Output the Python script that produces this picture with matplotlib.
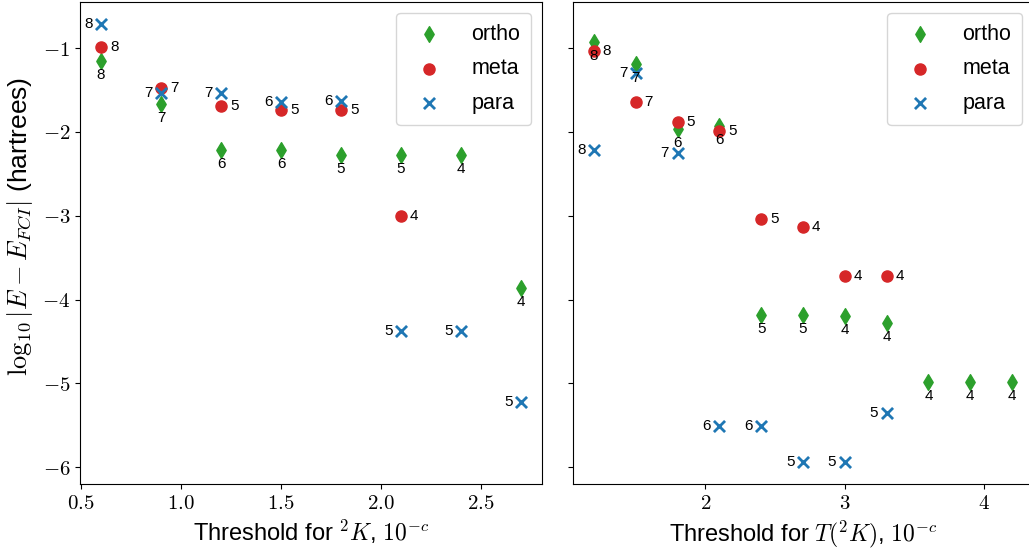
import matplotlib
matplotlib.use("Agg")
import matplotlib.pyplot as plt
from matplotlib import ticker

plt.rcParams['font.family'] = ['Liberation Sans', 'DejaVu Sans']
plt.rcParams['mathtext.fontset'] = 'cm'

# ---- Left panel: threshold for 2K ----
L_ortho_x = [0.6, 0.9, 1.2, 1.5, 1.8, 2.1, 2.4, 2.7]
L_ortho_y = [-1.15, -1.67, -2.22, -2.22, -2.28, -2.28, -2.28, -3.86]
L_ortho_lab = ['8', '7', '6', '6', '5', '5', '4', '4']

L_meta_x = [0.6, 0.9, 1.2, 1.5, 1.8, 2.1]
L_meta_y = [-0.99, -1.48, -1.69, -1.74, -1.74, -3.00]
L_meta_lab = ['8', '7', '5', '5', '5', '4']

L_para_x = [0.6, 0.9, 1.2, 1.5, 1.8, 2.1, 2.4, 2.7]
L_para_y = [-0.71, -1.54, -1.54, -1.64, -1.63, -4.37, -4.37, -5.22]
L_para_lab = ['8', '7', '7', '6', '6', '5', '5', '5']

# ---- Right panel: threshold for T(2K) ----
R_ortho_x = [1.2, 1.5, 1.8, 2.1, 2.4, 2.7, 3.0, 3.3, 3.6, 3.9, 4.2]
R_ortho_y = [-0.93, -1.19, -1.96, -1.93, -4.19, -4.19, -4.20, -4.28, -4.98, -4.98, -4.98]
R_ortho_lab = ['8', '7', '6', '6', '5', '5', '4', '4', '4', '4', '4']

R_meta_x = [1.2, 1.5, 1.8, 2.1, 2.4, 2.7, 3.0, 3.3]
R_meta_y = [-1.03, -1.64, -1.88, -1.99, -3.04, -3.13, -3.72, -3.72]
R_meta_lab = ['8', '7', '5', '5', '5', '4', '4', '4']

R_para_x = [1.2, 1.5, 1.8, 2.1, 2.4, 2.7, 3.0, 3.3]
R_para_y = [-2.21, -1.29, -2.25, -5.51, -5.51, -5.94, -5.94, -5.36]
R_para_lab = ['8', '7', '7', '6', '6', '5', '5', '5']

C_ORTHO = '#2ca02c'
C_META = '#d62728'
C_PARA = '#1f77b4'

fig = plt.figure(figsize=(10.29, 5.54), dpi=100)
ax1 = fig.add_axes([80/1029, 70/554, 462/1029, 482/554])
ax2 = fig.add_axes([573/1029, 70/554, 460/1029, 482/554], sharey=ax1)

ANN = 11


def draw(ax, ox, oy, ol, mx, my, ml, px, py, pl):
    ax.scatter(ox, oy, marker='d', s=64, color=C_ORTHO, label='ortho', zorder=3)
    ax.scatter(mx, my, marker='o', s=64, color=C_META, label='meta', zorder=3)
    ax.scatter(px, py, marker='x', s=64, color=C_PARA, linewidths=2, label='para', zorder=3)
    for x, y, t in zip(ox, oy, ol):
        ax.annotate(t, (x, y), xytext=(0, -10), textcoords='offset points',
                    ha='center', va='center', fontsize=ANN)
    for x, y, t in zip(mx, my, ml):
        ax.annotate(t, (x, y), xytext=(9.5, 0), textcoords='offset points',
                    ha='center', va='center', fontsize=ANN)
    for x, y, t in zip(px, py, pl):
        ax.annotate(t, (x, y), xytext=(-9.2, 0), textcoords='offset points',
                    ha='center', va='center', fontsize=ANN)
    leg = ax.legend(loc='upper right', fontsize=15.5, scatterpoints=1,
                    handletextpad=1.0, borderpad=0.5, labelspacing=0.64)
    leg.get_frame().set_edgecolor('#cccccc')


draw(ax1, L_ortho_x, L_ortho_y, L_ortho_lab, L_meta_x, L_meta_y, L_meta_lab,
     L_para_x, L_para_y, L_para_lab)
draw(ax2, R_ortho_x, R_ortho_y, R_ortho_lab, R_meta_x, R_meta_y, R_meta_lab,
     R_para_x, R_para_y, R_para_lab)

ax1.set_xticks([0.5, 1.0, 1.5, 2.0, 2.5])
ax1.xaxis.set_major_formatter(ticker.FuncFormatter(lambda v, p: f'${v:.1f}$'))
ax1.set_yticks([-1, -2, -3, -4, -5, -6])
ax1.yaxis.set_major_formatter(ticker.FuncFormatter(lambda v, p: f'${v:.0f}$'))
ax2.set_xticks([2, 3, 4])
ax2.xaxis.set_major_formatter(ticker.FuncFormatter(lambda v, p: f'${v:.0f}$'))
plt.setp(ax2.get_yticklabels(), visible=False)

for ax in (ax1, ax2):
    ax.tick_params(labelsize=15)

ax1.set_xlabel(r'Threshold for $^2K$, $10^{-c}$', fontsize=17)
ax2.set_xlabel(r'Threshold for $T(^2K)$, $10^{-c}$', fontsize=17)
ax1.set_ylabel(r'$\log_{10}|E-E_{FCI}|$ (hartrees)', fontsize=19)
ax1.yaxis.set_label_coords(-0.098, 0.535)

fig.savefig('out.png', dpi=100)
